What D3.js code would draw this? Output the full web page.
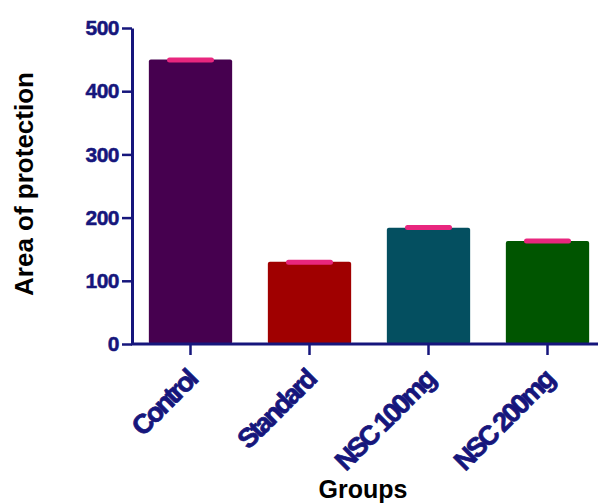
<!DOCTYPE html>
<html>
<head>
<meta charset="utf-8">
<script src="https://cdn.jsdelivr.net/npm/d3@7"></script>
<style>
  html, body { margin: 0; padding: 0; background: #fff; }
  svg { display: block; }
</style>
</head>
<body>
<svg id="chart" width="598" height="504"></svg>
<script>
// Area of protection per treatment group (mean ± SEM)
const groups = ["Control", "Standard", "NSC 100mg", "NSC 200mg"];
const means = [450, 130, 184, 163];
const sems = [1, 1, 2, 1.5];
const barColors = ["#46004f", "#a00000", "#044f60", "#005500"];
const yTicks = [0, 100, 200, 300, 400, 500];

const svg = d3.select("#chart");
const axisColor = "#16167c";
const errColor = "#e8267e";
const font = "Liberation Sans, Arial, sans-serif";

const y = d3.scaleLinear().domain([0, 500]).range([344, 28]);
const x = d3.scaleBand().domain(groups).range([131, 607])
  .paddingInner(0.3).paddingOuter(0.15);

// bars
svg.selectAll("rect.bar").data(groups).join("rect")
  .attr("class", "bar")
  .attr("x", d => x(d))
  .attr("width", x.bandwidth())
  .attr("y", (d, i) => y(means[i]))
  .attr("height", (d, i) => y(0) - y(means[i]))
  .attr("rx", 2)
  .attr("fill", (d, i) => barColors[i]);

// error bars (upper SEM)
const capW = 42;
groups.forEach((g, i) => {
  const cx = x(g) + x.bandwidth() / 2;
  svg.append("line")
    .attr("x1", cx).attr("x2", cx)
    .attr("y1", y(means[i]) + 2).attr("y2", y(means[i] + sems[i]))
    .attr("stroke", errColor).attr("stroke-width", 3);
  svg.append("line")
    .attr("x1", cx - capW / 2).attr("x2", cx + capW / 2)
    .attr("y1", y(means[i] + sems[i]) + 1).attr("y2", y(means[i] + sems[i]) + 1)
    .attr("stroke", errColor).attr("stroke-width", 5)
    .attr("stroke-linecap", "round");
});

// y axis
const yAxis = svg.append("g")
  .attr("transform", "translate(132,0)")
  .call(d3.axisLeft(y).tickValues(yTicks).tickSize(10).tickPadding(3).tickSizeOuter(0));
yAxis.select(".domain").attr("stroke", axisColor).attr("stroke-width", 3);
yAxis.selectAll(".tick line").attr("stroke", axisColor).attr("stroke-width", 2.5);
yAxis.selectAll(".tick text")
  .attr("fill", axisColor)
  .attr("stroke", axisColor).attr("stroke-width", 0.5)
  .style("font-family", font)
  .style("font-weight", "bold")
  .style("font-size", "21px")
  .style("letter-spacing", "-0.5px");

// x axis
svg.append("line")
  .attr("x1", 131).attr("x2", 598)
  .attr("y1", 344).attr("y2", 344)
  .attr("stroke", axisColor).attr("stroke-width", 3);

groups.forEach(g => {
  const cx = x(g) + x.bandwidth() / 2;
  svg.append("line")
    .attr("x1", cx).attr("x2", cx)
    .attr("y1", 344).attr("y2", 355)
    .attr("stroke", axisColor).attr("stroke-width", 2.5);
  svg.append("text")
    .attr("transform", `translate(${cx + 1},${375}) rotate(-45)`)
    .attr("text-anchor", "end")
    .attr("dy", "0.35em")
    .attr("fill", axisColor)
    .attr("stroke", axisColor).attr("stroke-width", 0.8)
    .style("font-family", font)
    .style("font-weight", "bold")
    .style("font-size", "27px")
    .style("letter-spacing", "-2.5px")
    .text(g);
});

// axis titles
svg.append("text")
  .attr("transform", "translate(33,184) rotate(-90)")
  .attr("text-anchor", "middle")
  .attr("fill", "#000")
  .style("font-family", font)
  .style("font-weight", "bold")
  .style("font-size", "26px")
  .text("Area of protection");

svg.append("text")
  .attr("x", 363).attr("y", 498)
  .attr("text-anchor", "middle")
  .attr("fill", "#000")
  .style("font-family", font)
  .style("font-weight", "bold")
  .style("font-size", "25px")
  .text("Groups");
</script>
</body>
</html>
